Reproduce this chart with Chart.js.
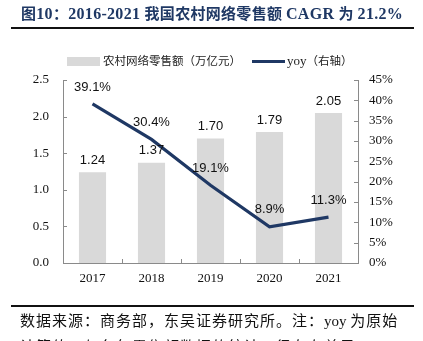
<!DOCTYPE html>
<html><head><meta charset="utf-8">
<script src="https://cdn.jsdelivr.net/npm/chart.js@4.4.0/dist/chart.umd.min.js"></script>
<style>
html,body{margin:0;padding:0;background:#fff;}
#wrap{position:relative;width:423px;height:341px;overflow:hidden;}
#cv{position:absolute;left:0;top:0;}
.t{position:absolute;white-space:nowrap;z-index:2;}
#title{left:21px;top:2px;color:#1F3864;font-weight:bold;letter-spacing:0.3px;}
#title .lat{font-family:"Liberation Serif","Times New Roman",serif;font-size:16px;}
#title .cjk{font-family:"Noto Sans CJK SC",sans-serif;font-size:15px;}
.rule{position:absolute;left:11px;width:403px;height:2px;background:#111;z-index:2;}
#foot{left:20px;top:308px;font-family:"Noto Sans CJK SC",sans-serif;font-size:15px;letter-spacing:1px;color:#111;line-height:24px;}
#foot .lat{font-family:"Liberation Serif",serif;letter-spacing:0;}
#foot .l2{position:relative;top:1px;}
#legend{left:67px;top:52px;font-family:"Noto Sans CJK SC",sans-serif;font-size:11.5px;color:#222;}
.lbox{display:inline-block;vertical-align:middle;}
</style></head>
<body>
<div id="wrap">
<canvas id="cv" width="423" height="341"></canvas>
<div id="title" class="t"><span class="cjk">图</span><span class="lat">10</span><span class="cjk">：</span><span class="lat">2016-2021 </span><span class="cjk">我国农村网络零售额 </span><span class="lat">CAGR </span><span class="cjk">为 </span><span class="lat">21.2%</span></div>
<div class="rule" style="top:27px"></div>
<div id="legend" class="t"><span class="lbox" style="width:33px;height:9px;background:#D9D9D9;"></span><span style="margin-left:3px;">农村网络零售额（万亿元）</span><span class="lbox" style="width:33px;height:3px;background:#1F3864;margin-left:11px;"></span><span style="margin-left:2px;"><span style="font-family:'Liberation Serif',serif;font-size:13px;">yoy</span>（右轴）</span></div>
<div class="rule" style="top:305px"></div>
<div id="foot" class="t">数据来源：商务部，东吴证券研究所。注：<span class="lat">yoy </span>为原始<br><span class="l2">计算值，与各年零售额数据的统计口径存在差异。</span></div>
</div>
<script>
const categories = ["2017", "2018", "2019", "2020", "2021"];
const retailSales = [1.24, 1.37, 1.70, 1.79, 2.05];
const yoyGrowth = [39.1, 30.4, 19.1, 8.9, 11.3];
const leftTicks = [0, 0.5, 1.0, 1.5, 2.0, 2.5];
const rightTicks = [0, 5, 10, 15, 20, 25, 30, 35, 40, 45];

const AXIS = '#8A8A8A';
const serif = "'Liberation Serif','Times New Roman',serif";
const sans = "'Liberation Sans',Arial,sans-serif";

const extras = {
  id: 'extras',
  afterDatasetsDraw(chart) {
    const ctx = chart.ctx;
    ctx.save();
    ctx.font = '13px ' + sans;
    ctx.fillStyle = '#111';
    ctx.textAlign = 'center';
    ctx.textBaseline = 'middle';
    chart.getDatasetMeta(0).data.forEach((el, i) => {
      ctx.fillText(retailSales[i].toFixed(2), el.x, el.y - 12);
    });
    chart.getDatasetMeta(1).data.forEach((el, i) => {
      ctx.fillText(yoyGrowth[i].toFixed(1) + '%', el.x, el.y - 17);
    });
    ctx.restore();
  },
  afterDraw(chart) {
    const ctx = chart.ctx, a = chart.chartArea;
    const y = chart.scales.y, y1 = chart.scales.y1, x = chart.scales.x;
    ctx.save();
    ctx.strokeStyle = AXIS;
    ctx.lineWidth = 1;
    ctx.beginPath();
    leftTicks.forEach(v => { const p = Math.round(y.getPixelForValue(v)) + 0.5; ctx.moveTo(a.left, p); ctx.lineTo(a.left + 4, p); });
    rightTicks.forEach(v => { const p = Math.round(y1.getPixelForValue(v)) + 0.5; ctx.moveTo(a.right - 4, p); ctx.lineTo(a.right, p); });
    const half = (x.getPixelForValue(1) - x.getPixelForValue(0)) / 2;
    for (let i = 0; i <= categories.length; i++) {
      const p = Math.round(x.getPixelForValue(i) - half) + 0.5;
      ctx.moveTo(p, a.bottom); ctx.lineTo(p, a.bottom - 4);
    }
    ctx.stroke();
    ctx.restore();
  }
};

new Chart(document.getElementById('cv'), {
  data: {
    labels: categories,
    datasets: [
      { type: 'bar', label: '农村网络零售额（万亿元）', data: retailSales, backgroundColor: '#D9D9D9', yAxisID: 'y', barPercentage: 0.46, categoryPercentage: 1.0, order: 2 },
      { type: 'line', label: 'yoy（右轴）', data: yoyGrowth, borderColor: '#1F3864', borderWidth: 3.2, pointRadius: 0, tension: 0, yAxisID: 'y1', order: 1 }
    ]
  },
  options: {
    responsive: false,
    animation: false,
    devicePixelRatio: 1,
    layout: { padding: { top: 80, left: 0, right: 0, bottom: 0 } },
    plugins: { legend: { display: false }, tooltip: { enabled: false } },
    scales: {
      x: {
        offset: true,
        grid: { display: false, drawTicks: false },
        border: { display: true, color: AXIS, width: 1 },
        ticks: { font: { family: serif, size: 13 }, color: '#111', padding: 8 },
        afterFit(s) { s.height = 341 - 263; }
      },
      y: {
        position: 'left', min: 0, max: 2.5,
        afterBuildTicks(s) { s.ticks = leftTicks.map(v => ({ value: v })); },
        grid: { display: false, drawTicks: false },
        border: { display: true, color: AXIS, width: 1 },
        ticks: { font: { family: serif, size: 13 }, color: '#111', padding: 14, callback: v => v.toFixed(1) },
        afterFit(s) { s.width = 63; }
      },
      y1: {
        position: 'right', min: 0, max: 45,
        afterBuildTicks(s) { s.ticks = rightTicks.map(v => ({ value: v })); },
        grid: { display: false, drawTicks: false },
        border: { display: true, color: AXIS, width: 1 },
        ticks: { font: { family: serif, size: 13 }, color: '#111', padding: 11, callback: v => v + '%' },
        afterFit(s) { s.width = 423 - 358; }
      }
    }
  },
  plugins: [extras]
});
</script>
</body></html>
